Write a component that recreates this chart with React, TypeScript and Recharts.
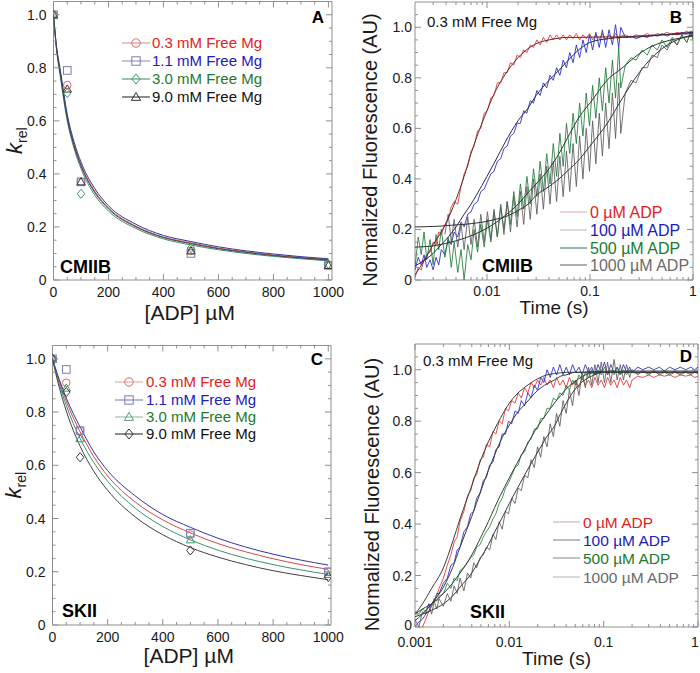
import React from 'react';
import { ComposedChart, Line, Scatter, XAxis, YAxis, ReferenceArea } from 'recharts';

const FONT = '"Liberation Sans", Arial, Helvetica, sans-serif';
const FRAME = '#8f8f8f';
const INK = '#1a1a1a';

// ---------- Panel A (CMIIB) ----------
const adpConc = [0, 50, 100, 500, 1000];
const cmiibMg03 = [1.0, 0.735, 0.37, 0.11, 0.055];
const cmiibMg11 = [1.0, 0.79, 0.37, 0.1, 0.055];
const cmiibMg30 = [1.0, 0.705, 0.325, 0.12, 0.06];
const cmiibMg90 = [1.0, 0.72, 0.37, 0.11, 0.055];

const fitAdp = [0, 10, 25, 50, 75, 100, 150, 200, 300, 400, 500, 600, 700, 800, 900, 1000];
const cmiibFit03 = [1, 0.885, 0.78, 0.615, 0.51, 0.435, 0.335, 0.272, 0.203, 0.162, 0.14, 0.12, 0.106, 0.094, 0.085, 0.077];
const cmiibFit11 = [1, 0.89, 0.79, 0.625, 0.52, 0.445, 0.345, 0.28, 0.21, 0.168, 0.145, 0.125, 0.11, 0.098, 0.088, 0.08];
const cmiibFit30 = [1, 0.878, 0.765, 0.6, 0.495, 0.42, 0.32, 0.26, 0.194, 0.155, 0.132, 0.114, 0.1, 0.089, 0.08, 0.072];
const cmiibFit90 = [1, 0.882, 0.775, 0.61, 0.505, 0.43, 0.33, 0.268, 0.2, 0.16, 0.137, 0.118, 0.104, 0.092, 0.083, 0.075];

// ---------- Panel C (SKII) ----------
const skiiMg03 = [1.0, 0.91, 0.73, 0.34, 0.2];
const skiiMg11 = [1.0, 0.96, 0.73, 0.345, 0.2];
const skiiMg30 = [1.0, 0.89, 0.7, 0.32, 0.19];
const skiiMg90 = [1.0, 0.875, 0.63, 0.28, 0.18];

const skiiFit03 = [1, 0.964, 0.914, 0.841, 0.779, 0.726, 0.632, 0.56, 0.462, 0.395, 0.346, 0.306, 0.275, 0.249, 0.227, 0.209];
const skiiFit11 = [1, 0.967, 0.921, 0.853, 0.795, 0.744, 0.65, 0.58, 0.485, 0.415, 0.367, 0.326, 0.293, 0.266, 0.244, 0.225];
const skiiFit30 = [1, 0.959, 0.904, 0.825, 0.758, 0.701, 0.61, 0.54, 0.439, 0.37, 0.32, 0.281, 0.251, 0.227, 0.207, 0.19];
const skiiFit90 = [1, 0.953, 0.891, 0.804, 0.732, 0.672, 0.577, 0.506, 0.406, 0.339, 0.291, 0.255, 0.227, 0.204, 0.186, 0.17];

// ---------- Panel B (CMIIB transients) ----------
const timeB = [0.002, 0.00215, 0.0023, 0.00245, 0.0026, 0.0028, 0.003, 0.0032, 0.0034, 0.0036,
  0.0039, 0.0042, 0.0045, 0.0048, 0.0052, 0.0056, 0.006, 0.0065, 0.007, 0.0075,
  0.0081, 0.0087, 0.0094, 0.0101, 0.0109, 0.0117, 0.0126, 0.0136, 0.0146, 0.0157,
  0.0169, 0.0182, 0.0196, 0.0211, 0.0227, 0.0244, 0.0263, 0.0283, 0.0305, 0.0328,
  0.0353, 0.038, 0.0409, 0.044, 0.0474, 0.051, 0.0549, 0.0591, 0.0636, 0.0685,
  0.0737, 0.0793, 0.0854, 0.0919, 0.0989, 0.106, 0.114, 0.123, 0.132, 0.142,
  0.153, 0.165, 0.177, 0.19, 0.199, 0.22, 0.25, 0.28, 0.32, 0.36,
  0.4, 0.45, 0.5, 0.56, 0.63, 0.7, 0.78, 0.87, 0.95, 1.0];
const cmiibAdp0 = [0.01, 0.05, 0.04, 0.08, 0.1, 0.11, 0.15, 0.14, 0.19, 0.18,
  0.22, 0.24, 0.29, 0.31, 0.3, 0.37, 0.42, 0.45, 0.51, 0.53,
  0.59, 0.6, 0.66, 0.67, 0.72, 0.73, 0.78, 0.78, 0.82, 0.82,
  0.86, 0.85, 0.89, 0.88, 0.91, 0.9, 0.93, 0.92, 0.95, 0.93,
  0.96, 0.94, 0.97, 0.95, 0.97, 0.95, 0.97, 0.95, 0.97, 0.955,
  0.975, 0.95, 0.97, 0.955, 0.975, 0.95, 0.97, 0.955, 0.975, 0.95,
  0.97, 0.955, 0.975, 0.955, 0.965, 0.97, 0.96, 0.97, 0.965, 0.975,
  0.965, 0.975, 0.97, 0.98, 0.97, 0.98, 0.975, 0.985, 0.975, 0.98];
const cmiibAdp100 = [0.04, 0.09, 0.06, 0.1, 0.05, 0.08, 0.04, 0.09, 0.06, 0.12,
  0.1, 0.16, 0.14, 0.19, 0.17, 0.23, 0.21, 0.26, 0.27, 0.3,
  0.31, 0.35, 0.36, 0.39, 0.42, 0.43, 0.47, 0.48, 0.52, 0.53,
  0.57, 0.58, 0.62, 0.62, 0.67, 0.66, 0.71, 0.7, 0.75, 0.73,
  0.78, 0.76, 0.81, 0.79, 0.84, 0.81, 0.87, 0.84, 0.9, 0.86,
  0.93, 0.88, 0.95, 0.9, 0.97, 0.91, 0.98, 0.92, 0.99, 0.92,
  0.99, 0.93, 1.01, 0.92, 1.0, 0.96, 0.965, 0.955, 0.965, 0.96,
  0.97, 0.965, 0.975, 0.965, 0.975, 0.97, 0.98, 0.975, 0.985, 0.98];
const cmiibAdp500 = [0.05, 0.17, 0.1, 0.19, 0.08, 0.16, 0.06, 0.18, 0.12, 0.2,
  0.09, 0.17, 0.05, 0.15, 0.03, 0.12, 0.0, 0.14, 0.08, 0.2,
  0.11, 0.22, 0.13, 0.24, 0.15, 0.27, 0.17, 0.29, 0.2, 0.31,
  0.22, 0.35, 0.25, 0.38, 0.28, 0.41, 0.3, 0.44, 0.33, 0.47,
  0.35, 0.5, 0.38, 0.54, 0.41, 0.58, 0.45, 0.62, 0.5, 0.66,
  0.54, 0.7, 0.57, 0.74, 0.61, 0.77, 0.64, 0.8, 0.67, 0.84,
  0.7, 0.87, 0.72, 0.92, 0.76, 0.85, 0.88, 0.87, 0.91, 0.89,
  0.93, 0.91, 0.95, 0.92, 0.96, 0.93, 0.97, 0.94, 0.98, 0.95];
const cmiibAdp1000 = [null, null, null, null, null, null, null, null, null, null,
  0.18, 0.26, 0.15, 0.24, 0.13, 0.22, 0.12, 0.25, 0.14, 0.24,
  0.13, 0.26, 0.15, 0.27, 0.16, 0.28, 0.17, 0.3, 0.18, 0.31,
  0.19, 0.33, 0.21, 0.35, 0.22, 0.37, 0.24, 0.4, 0.26, 0.42,
  0.28, 0.45, 0.3, 0.47, 0.31, 0.49, 0.33, 0.51, 0.35, 0.54,
  0.37, 0.57, 0.4, 0.6, 0.43, 0.63, 0.46, 0.66, 0.49, 0.7,
  0.52, 0.74, 0.56, 0.78, 0.58, 0.74, 0.79, 0.78, 0.84, 0.84,
  0.89, 0.88, 0.93, 0.91, 0.95, 0.93, 0.97, 0.94, 0.98, 0.96];

const fitTimeB = [0.002, 0.0025, 0.003, 0.0035, 0.004, 0.005, 0.006, 0.007, 0.008, 0.01, 0.012, 0.015, 0.02, 0.025,
  0.03, 0.04, 0.05, 0.06, 0.08, 0.1, 0.15, 0.2, 0.3, 0.4, 0.5, 0.7, 1];
const cmiibFitAdp0 = [0.02, 0.082, 0.14, 0.182, 0.225, 0.318, 0.41, 0.5, 0.568, 0.67, 0.745, 0.813, 0.88, 0.915,
  0.935, 0.95, 0.957, 0.96, 0.96, 0.961, 0.962, 0.962, 0.965, 0.968, 0.97, 0.972, 0.975];
const cmiibFitAdp100 = [0.055, 0.08, 0.105, 0.135, 0.16, 0.21, 0.26, 0.3, 0.34, 0.41, 0.47, 0.545, 0.63, 0.68,
  0.73, 0.79, 0.83, 0.865, 0.915, 0.94, 0.955, 0.96, 0.962, 0.966, 0.97, 0.975, 0.98];
const cmiibFitAdp500 = [0.13, 0.132, 0.135, 0.14, 0.145, 0.155, 0.165, 0.175, 0.185, 0.205, 0.225, 0.255, 0.3, 0.345,
  0.38, 0.44, 0.5, 0.56, 0.65, 0.7, 0.795, 0.835, 0.895, 0.925, 0.94, 0.955, 0.965];
const cmiibFitAdp1000 = [0.21, 0.211, 0.212, 0.213, 0.215, 0.218, 0.22, 0.223, 0.226, 0.232, 0.24, 0.25, 0.275, 0.3,
  0.335, 0.37, 0.4, 0.43, 0.48, 0.53, 0.625, 0.71, 0.82, 0.88, 0.915, 0.95, 0.97];

// ---------- Panel D (SKII transients) ----------
const timeD = [0.001, 0.0011, 0.0012, 0.0013, 0.0014, 0.0015, 0.0016, 0.0017, 0.0018, 0.002,
  0.0022, 0.0024, 0.0026, 0.0028, 0.003, 0.0033, 0.0036, 0.0039, 0.0042, 0.0045,
  0.0049, 0.0053, 0.0057, 0.0062, 0.0067, 0.0072, 0.0078, 0.0084, 0.0091, 0.0098,
  0.0106, 0.0115, 0.0124, 0.0134, 0.0145, 0.0157, 0.017, 0.0184, 0.0199, 0.0215,
  0.0232, 0.0251, 0.0271, 0.0293, 0.0317, 0.0343, 0.0371, 0.0401, 0.0433, 0.0468,
  0.0506, 0.0547, 0.0591, 0.0639, 0.0691, 0.0747, 0.0807, 0.0872, 0.0943, 0.102,
  0.11, 0.119, 0.129, 0.139, 0.15, 0.162, 0.175, 0.189, 0.2, 0.23,
  0.26, 0.3, 0.34, 0.39, 0.44, 0.5, 0.57, 0.65, 0.74, 0.84,
  0.92, 1.0];
const skiiAdp0 = [null, null, 0.0, 0.03, 0.06, 0.08, 0.11, 0.12, 0.15, 0.19,
  0.24, 0.28, 0.33, 0.35, 0.41, 0.45, 0.51, 0.53, 0.58, 0.59,
  0.65, 0.66, 0.71, 0.7, 0.76, 0.75, 0.8, 0.79, 0.85, 0.84,
  0.88, 0.87, 0.91, 0.89, 0.93, 0.91, 0.95, 0.93, 0.96, 0.94,
  0.97, 0.94, 0.96, 0.93, 0.97, 0.94, 0.96, 0.93, 0.97, 0.94,
  0.96, 0.93, 0.97, 0.94, 0.96, 0.93, 0.97, 0.94, 0.96, 0.93,
  0.97, 0.94, 0.96, 0.93, 0.97, 0.94, 0.96, 0.93, 0.96, 0.975,
  0.97, 0.98, 0.97, 0.98, 0.975, 0.98, 0.97, 0.98, 0.975, 0.98,
  0.97, 0.975];
const skiiAdp100 = [0.0, 0.02, 0.03, 0.05, 0.06, 0.09, 0.1, 0.13, 0.13, 0.17,
  0.19, 0.24, 0.25, 0.3, 0.31, 0.37, 0.39, 0.44, 0.45, 0.5,
  0.52, 0.57, 0.58, 0.63, 0.64, 0.69, 0.7, 0.75, 0.75, 0.8,
  0.79, 0.84, 0.83, 0.88, 0.86, 0.91, 0.89, 0.94, 0.92, 0.97,
  0.95, 1.0, 0.97, 1.01, 0.98, 1.02, 0.98, 1.01, 0.98, 1.02,
  0.99, 1.01, 0.98, 1.02, 0.99, 1.01, 0.98, 1.02, 0.99, 1.03,
  0.98, 1.02, 0.99, 1.01, 0.98, 1.02, 0.99, 1.01, 0.99, 1.01,
  1.0, 1.01, 1.0, 1.01, 0.995, 1.01, 1.0, 1.01, 1.0, 1.01,
  1.0, 1.01];
const skiiAdp500 = [0.06, 0.05, 0.07, 0.06, 0.09, 0.08, 0.11, 0.1, 0.12, 0.13,
  0.17, 0.15, 0.19, 0.18, 0.22, 0.23, 0.25, 0.27, 0.28, 0.31,
  0.32, 0.35, 0.37, 0.39, 0.42, 0.44, 0.48, 0.5, 0.54, 0.56,
  0.59, 0.62, 0.63, 0.67, 0.68, 0.72, 0.73, 0.77, 0.77, 0.81,
  0.81, 0.85, 0.85, 0.89, 0.88, 0.91, 0.9, 0.94, 0.92, 0.96,
  0.94, 0.98, 0.96, 0.99, 0.97, 1.0, 0.98, 1.0, 0.98, 1.01,
  0.98, 1.0, 0.98, 1.01, 0.98, 1.0, 0.98, 1.0, 0.99, 0.985,
  0.995, 0.985, 0.995, 0.985, 0.995, 0.985, 0.995, 0.985, 0.995, 0.985,
  0.995, 0.99];
const skiiAdp1000 = [0.03, 0.0, 0.06, 0.05, 0.09, 0.05, 0.1, 0.07, 0.11, 0.08,
  0.13, 0.1, 0.16, 0.13, 0.19, 0.14, 0.21, 0.19, 0.25, 0.23,
  0.27, 0.28, 0.31, 0.3, 0.36, 0.34, 0.41, 0.38, 0.45, 0.44,
  0.5, 0.48, 0.54, 0.53, 0.59, 0.58, 0.65, 0.62, 0.7, 0.66,
  0.74, 0.7, 0.79, 0.74, 0.83, 0.78, 0.88, 0.83, 0.92, 0.86,
  0.96, 0.9, 0.99, 0.93, 1.01, 0.94, 1.02, 0.95, 1.03, 0.95,
  1.03, 0.95, 1.04, 0.96, 1.02, 0.96, 1.02, 0.97, 1.0, 0.98,
  0.995, 0.98, 0.995, 0.98, 0.99, 0.98, 0.99, 0.98, 0.99, 0.98,
  0.99, 0.985];

const fitTimeD = [0.001, 0.0012, 0.0015, 0.002, 0.0025, 0.003, 0.004, 0.005, 0.006, 0.007, 0.008, 0.01, 0.012, 0.015,
  0.02, 0.025, 0.03, 0.035, 0.04, 0.05, 0.06, 0.07, 0.08, 0.1, 0.2, 0.5, 1];
const skiiFitAdp0 = [0.05, 0.09, 0.15, 0.23, 0.33, 0.42, 0.55, 0.65, 0.72, 0.77, 0.81, 0.87, 0.905, 0.935,
  0.965, 0.98, 0.985, 0.988, 0.99, 0.99, 0.99, 0.99, 0.99, 0.99, 0.99, 0.99, 0.99];
const skiiFitAdp100 = [0.025, 0.05, 0.09, 0.155, 0.23, 0.31, 0.43, 0.53, 0.61, 0.67, 0.72, 0.785, 0.83, 0.87,
  0.92, 0.945, 0.96, 0.975, 0.98, 0.99, 0.99, 0.992, 0.993, 0.994, 0.995, 0.995, 0.995];
const skiiFitAdp500 = [0.05, 0.07, 0.09, 0.13, 0.17, 0.21, 0.28, 0.35, 0.41, 0.465, 0.51, 0.58, 0.635, 0.7,
  0.78, 0.83, 0.87, 0.9, 0.925, 0.955, 0.975, 0.985, 0.988, 0.99, 0.99, 0.99, 0.99];
const skiiFitAdp1000 = [0.04, 0.05, 0.065, 0.09, 0.12, 0.155, 0.21, 0.27, 0.32, 0.37, 0.41, 0.48, 0.535, 0.6,
  0.68, 0.74, 0.78, 0.83, 0.87, 0.925, 0.955, 0.97, 0.98, 0.99, 0.99, 0.99, 0.99];

// ---------- Ticks ----------
const adpTicks = [0, 50, 100, 150, 200, 250, 300, 350, 400, 450, 500, 550, 600, 650, 700, 750, 800, 850, 900, 950, 1000];
const adpMajor = [0, 200, 400, 600, 800, 1000];
const krelTicks = [0, 0.05, 0.1, 0.15, 0.2, 0.25, 0.3, 0.35, 0.4, 0.45, 0.5, 0.55, 0.6, 0.65, 0.7, 0.75, 0.8, 0.85, 0.9, 0.95, 1.0];
const fluorTicks = [0, 0.05, 0.1, 0.15, 0.2, 0.25, 0.3, 0.35, 0.4, 0.45, 0.5, 0.55, 0.6, 0.65, 0.7, 0.75, 0.8, 0.85, 0.9, 0.95, 1.0, 1.05];
const yMajor = [0, 0.2, 0.4, 0.6, 0.8, 1.0];
const timeTicksB = [0.003, 0.004, 0.005, 0.006, 0.007, 0.008, 0.009, 0.01, 0.02, 0.03, 0.04, 0.05, 0.06, 0.07, 0.08, 0.09, 0.1, 0.2, 0.3, 0.4, 0.5, 0.6, 0.7, 0.8, 0.9, 1];
const timeTicksD = [0.001, 0.002, 0.003, 0.004, 0.005, 0.006, 0.007, 0.008, 0.009, 0.01, 0.02, 0.03, 0.04, 0.05, 0.06, 0.07, 0.08, 0.09, 0.1, 0.2, 0.3, 0.4, 0.5, 0.6, 0.7, 0.8, 0.9, 1];
const timeMajor = [0.001, 0.01, 0.1, 1];

const mgLabels = ['0.3 mM Free Mg', '1.1 mM Free Mg', '3.0 mM Free Mg', '9.0 mM Free Mg'];
const adpLabels = ['0 µM ADP', '100 µM ADP', '500 µM ADP', '1000 µM ADP'];

type XY = { x: number; y: number };
function pairs(xs: number[], ys: (number | null)[]): XY[] {
  const out: XY[] = [];
  xs.forEach((x, i) => {
    const y = ys[i];
    if (y !== null && y !== undefined) out.push({ x, y });
  });
  return out;
}

const fmtPlain = (v: number) => String(v);
const fmtK = (v: number) => (v === 0 ? '0' : v.toFixed(1));

function bottomTicks(major: number[], top: number, fmt: (v: number) => string, dy: number, maxX: number) {
  return (props: any) => {
    const { x, y, payload } = props;
    const v = payload.value as number;
    const isMajor = major.indexOf(v) >= 0;
    const len = isMajor ? 6 : 3;
    return (
      <g>
        <line x1={x} y1={y} x2={x} y2={y - len} stroke={FRAME} strokeWidth={1} />
        <line x1={x} y1={top} x2={x} y2={top + len} stroke={FRAME} strokeWidth={1} />
        {isMajor ? (
          <text x={Math.min(x, maxX)} y={y + dy} textAnchor="middle" fontSize={14} fontFamily={FONT} fill={INK}>{fmt(v)}</text>
        ) : null}
      </g>
    );
  };
}

function leftTicks(major: number[], right: number, fmt: (v: number) => string, gap: number, zeroLift: number) {
  return (props: any) => {
    const { x, y, payload } = props;
    const v = payload.value as number;
    const isMajor = major.indexOf(v) >= 0;
    const len = isMajor ? 6 : 3;
    return (
      <g>
        <line x1={x} y1={y} x2={x + len} y2={y} stroke={FRAME} strokeWidth={1} />
        <line x1={right} y1={y} x2={right - len} y2={y} stroke={FRAME} strokeWidth={1} />
        {isMajor ? (
          <text x={x - gap} y={y + 5 - (v === 0 ? zeroLift : 0)} textAnchor="end" fontSize={14} fontFamily={FONT} fill={INK}>{fmt(v)}</text>
        ) : null}
      </g>
    );
  };
}

function xTitle(text: string, dy: number, size: number, dx: number) {
  return (props: any) => {
    const vb = props.viewBox || {};
    return (
      <text x={vb.x + vb.width / 2 + dx} y={vb.y + dy} textAnchor="middle" fontSize={size} fontFamily={FONT} fill={INK}>
        {text}
      </text>
    );
  };
}

function krelTitle(dx: number) {
  return (props: any) => {
    const vb = props.viewBox || {};
    const x = vb.x + vb.width - dx;
    const y = vb.y + vb.height / 2;
    return (
      <text transform={`rotate(-90 ${x} ${y})`} x={x} y={y} textAnchor="middle" fontFamily={FONT} fill={INK}>
        <tspan fontStyle="italic" fontSize={22}>k</tspan>
        <tspan fontSize={14} dy={5}>rel</tspan>
      </text>
    );
  };
}

function fluorTitle(dx: number, dy: number) {
  return (props: any) => {
    const vb = props.viewBox || {};
    const x = vb.x + vb.width - dx;
    const y = vb.y + vb.height / 2 + dy;
    return (
      <text transform={`rotate(-90 ${x} ${y})`} x={x} y={y} textAnchor="middle" fontSize={20} fontFamily={FONT} fill={INK}>
        Normalized Fluorescence (AU)
      </text>
    );
  };
}

type MarkerKind = 'circle' | 'square' | 'diamond' | 'triangle';
function drawMarker(kind: MarkerKind, cx: number, cy: number, color: string, s: number) {
  if (kind === 'circle') return <circle cx={cx} cy={cy} r={s} fill="none" stroke={color} strokeWidth={1} />;
  if (kind === 'square') return <rect x={cx - s} y={cy - s} width={2 * s} height={2 * s} fill="none" stroke={color} strokeWidth={1} />;
  if (kind === 'diamond')
    return <polygon points={`${cx},${cy - s * 1.2} ${cx + s},${cy} ${cx},${cy + s * 1.2} ${cx - s},${cy}`} fill="none" stroke={color} strokeWidth={1} />;
  return <polygon points={`${cx},${cy - s * 1.1} ${cx + s * 1.1},${cy + s * 0.8} ${cx - s * 1.1},${cy + s * 0.8}`} fill="none" stroke={color} strokeWidth={1} />;
}
const markerShape = (kind: MarkerKind, color: string) => (p: any) => drawMarker(kind, p.cx, p.cy, color, 3.8);

// colours
const RED_T = '#e02222';
const BLUE_T = '#2020b8';
const GREEN_T = '#1b7a2c';
const GREY_T = '#6a6a6a';

type SeriesDef = { ys: number[]; fit: number[]; kind: MarkerKind; mark: string; line: string };
type Margin = { top: number; right: number; bottom: number; left: number };

function KrelPanel(props: { height: number; margin: Margin; series: SeriesDef[]; xMax: number; titleDy: number }) {
  const { height, margin, series, xMax, titleDy } = props;
  const W = 350;
  const top = margin.top;
  const right = W - margin.right;
  // axes take 1px each so that Recharts draws them; margins are reduced accordingly
  const m = { top: margin.top, right: margin.right, bottom: margin.bottom - 1, left: margin.left - 1 };
  return (
    <ComposedChart width={W} height={height} margin={m}>
      <XAxis dataKey="x" type="number" domain={[0, xMax]} ticks={adpTicks} interval={0} allowDataOverflow
        height={1} tickLine={false} axisLine={false} tickSize={0} tickMargin={0}
        tick={bottomTicks(adpMajor, top, fmtPlain, 17, W - 16)} label={xTitle('[ADP] µM', titleDy, 21, -3)} />
      <YAxis type="number" domain={[0, 1.05]} ticks={krelTicks} interval={0} allowDataOverflow
        width={1} tickLine={false} axisLine={false} tickSize={0} tickMargin={0}
        tick={leftTicks(yMajor, right, fmtK, 7, 0)} label={krelTitle(32)} />
      <ReferenceArea x1={0} x2={xMax} y1={0} y2={1.05} fill="none" fillOpacity={0} stroke={FRAME} strokeWidth={1} ifOverflow="visible" />
      {series.map((s, i) => (
        <Line key={'f' + i} data={pairs(fitAdp, s.fit)} dataKey="y" type="monotone" stroke={s.line} strokeWidth={1}
          dot={false} isAnimationActive={false} />
      ))}
      {series.map((s, i) => (
        <Scatter key={'s' + i} data={pairs(adpConc, s.ys)} dataKey="y" shape={markerShape(s.kind, s.mark)} isAnimationActive={false} />
      ))}
    </ComposedChart>
  );
}

type TraceDef = { t: number[]; ys: (number | null)[]; color: string };
type FitDef = { t: number[]; ys: number[]; color: string };

function TracePanel(props: {
  height: number; margin: Margin; domain: [number, number]; ticks: number[];
  traces: TraceDef[]; fits: FitDef[]; titleDy: number; yTitleDx: number; labelDy: number; zeroLift: number;
}) {
  const { height, margin, domain, ticks, traces, fits, titleDy, yTitleDx, labelDy, zeroLift } = props;
  const W = 350;
  const top = margin.top;
  const right = W - margin.right;
  const m = { top: margin.top, right: margin.right, bottom: margin.bottom - 1, left: margin.left - 1 };
  return (
    <ComposedChart width={W} height={height} margin={m}>
      <XAxis dataKey="x" type="number" scale="log" domain={domain} ticks={ticks} interval={0} allowDataOverflow
        height={1} tickLine={false} axisLine={false} tickSize={0} tickMargin={0}
        tick={bottomTicks(timeMajor, top, fmtPlain, labelDy, W - 5)} label={xTitle('Time (s)', titleDy, 19, 0)} />
      <YAxis type="number" domain={[0, 1.1]} ticks={fluorTicks} interval={0} allowDataOverflow
        width={1} tickLine={false} axisLine={false} tickSize={0} tickMargin={0}
        tick={leftTicks(yMajor, right, fmtK, 3, zeroLift)} label={fluorTitle(yTitleDx, 9)} />
      <ReferenceArea x1={domain[0]} x2={domain[1]} y1={0} y2={1.1} fill="none" fillOpacity={0} stroke={FRAME} strokeWidth={1} ifOverflow="visible" />
      {traces.map((s, i) => (
        <Line key={'t' + i} data={pairs(s.t, s.ys)} dataKey="y" type="linear" stroke={s.color} strokeWidth={1}
          strokeOpacity={0.85} dot={false} isAnimationActive={false} />
      ))}
      {fits.map((s, i) => (
        <Line key={'f' + i} data={pairs(s.t, s.ys)} dataKey="y" type="monotone" stroke={s.color} strokeWidth={1}
          dot={false} isAnimationActive={false} />
      ))}
    </ComposedChart>
  );
}

type LegRow = { text: string; tc: string; lc: string; kind?: MarkerKind; mc?: string };

function LegendBlock(props: { x0: number; x1: number; tx: number; ys: number[]; rows: LegRow[]; size: number }) {
  const { x0, x1, tx, ys, rows, size } = props;
  return (
    <g>
      {rows.map((r, i) => (
        <g key={i}>
          <line x1={x0} y1={ys[i]} x2={x1} y2={ys[i]} stroke={r.lc} strokeWidth={1.2} />
          {r.kind ? drawMarker(r.kind, (x0 + x1) / 2, ys[i], r.mc || r.lc, 4.2) : null}
          <text x={tx} y={ys[i] + size * 0.36} fontSize={size} fontFamily={FONT} fill={r.tc}>{r.text}</text>
        </g>
      ))}
    </g>
  );
}

export default function App() {
  const seriesA: SeriesDef[] = [
    { ys: cmiibMg03, fit: cmiibFit03, kind: 'circle', mark: '#d86868', line: '#d04848' },
    { ys: cmiibMg11, fit: cmiibFit11, kind: 'square', mark: '#7a7abc', line: '#3434a4' },
    { ys: cmiibMg30, fit: cmiibFit30, kind: 'diamond', mark: '#3c9a6c', line: '#3a9070' },
    { ys: cmiibMg90, fit: cmiibFit90, kind: 'triangle', mark: '#3a3a3a', line: '#404040' },
  ];
  const seriesC: SeriesDef[] = [
    { ys: skiiMg03, fit: skiiFit03, kind: 'circle', mark: '#d86868', line: '#d04848' },
    { ys: skiiMg11, fit: skiiFit11, kind: 'square', mark: '#7a7abc', line: '#3434a4' },
    { ys: skiiMg30, fit: skiiFit30, kind: 'triangle', mark: '#3c9a6c', line: '#3a9070' },
    { ys: skiiMg90, fit: skiiFit90, kind: 'diamond', mark: '#3a3a3a', line: '#404040' },
  ];
  const tracesB: TraceDef[] = [
    { t: timeB, ys: cmiibAdp0, color: '#e23030' },
    { t: timeB, ys: cmiibAdp100, color: '#2424c8' },
    { t: timeB, ys: cmiibAdp500, color: '#1e7a36' },
    { t: timeB, ys: cmiibAdp1000, color: '#5a5a5a' },
  ];
  const fitsB: FitDef[] = [
    { t: fitTimeB, ys: cmiibFitAdp0, color: '#6a2a2a' },
    { t: fitTimeB, ys: cmiibFitAdp100, color: '#2a2a4a' },
    { t: fitTimeB, ys: cmiibFitAdp500, color: '#2a3a2e' },
    { t: fitTimeB, ys: cmiibFitAdp1000, color: '#333333' },
  ];
  const tracesD: TraceDef[] = [
    { t: timeD, ys: skiiAdp0, color: '#e23030' },
    { t: timeD, ys: skiiAdp100, color: '#2424c8' },
    { t: timeD, ys: skiiAdp500, color: '#1e8a36' },
    { t: timeD, ys: skiiAdp1000, color: '#5a5a5a' },
  ];
  const fitsD: FitDef[] = [
    { t: fitTimeD, ys: skiiFitAdp0, color: '#3a3a3a' },
    { t: fitTimeD, ys: skiiFitAdp100, color: '#3a3a3a' },
    { t: fitTimeD, ys: skiiFitAdp500, color: '#3a3a3a' },
    { t: fitTimeD, ys: skiiFitAdp1000, color: '#3a3a3a' },
  ];

  const legA: LegRow[] = [
    { text: mgLabels[0], tc: RED_T, lc: '#e29a9a', kind: 'circle', mc: '#d86868' },
    { text: mgLabels[1], tc: BLUE_T, lc: '#9a9ac6', kind: 'square', mc: '#7a7abc' },
    { text: mgLabels[2], tc: GREEN_T, lc: '#5a9a7a', kind: 'diamond', mc: '#3c9a6c' },
    { text: mgLabels[3], tc: '#111', lc: '#444', kind: 'triangle', mc: '#333' },
  ];
  const legC: LegRow[] = [
    { text: mgLabels[0], tc: RED_T, lc: '#e8b0b0', kind: 'circle', mc: '#d86868' },
    { text: mgLabels[1], tc: BLUE_T, lc: '#8a8ac0', kind: 'square', mc: '#7a7abc' },
    { text: mgLabels[2], tc: GREEN_T, lc: '#9ac0aa', kind: 'triangle', mc: '#5a9a7a' },
    { text: mgLabels[3], tc: '#111', lc: '#444', kind: 'diamond', mc: '#333' },
  ];
  const legB: LegRow[] = [
    { text: adpLabels[0], tc: RED_T, lc: '#e8b4b4' },
    { text: adpLabels[1], tc: BLUE_T, lc: '#c4c4cc' },
    { text: adpLabels[2], tc: GREEN_T, lc: '#4a8a7e' },
    { text: adpLabels[3], tc: GREY_T, lc: '#7a7a7a' },
  ];
  const legD: LegRow[] = [
    { text: adpLabels[0], tc: RED_T, lc: '#cdb8b8' },
    { text: adpLabels[1], tc: BLUE_T, lc: '#909090' },
    { text: adpLabels[2], tc: GREEN_T, lc: '#9a9a9a' },
    { text: adpLabels[3], tc: GREY_T, lc: '#c0c0c0' },
  ];

  return (
    <div style={{ position: 'absolute', left: 0, top: 0, width: 700, height: 673, background: '#ffffff', overflow: 'hidden' }}>
      <div style={{ position: 'absolute', left: 0, top: 0 }}>
        <KrelPanel height={335} margin={{ top: 1.5, right: 18, bottom: 55, left: 53.5 }} series={seriesA} xMax={1013} titleDy={40} />
      </div>
      <div style={{ position: 'absolute', left: 350, top: 0 }}>
        <TracePanel height={335} margin={{ top: 2, right: 7, bottom: 55, left: 65 }} domain={[0.002, 1]} ticks={timeTicksB}
          traces={tracesB} fits={fitsB} titleDy={34} yTitleDx={38} labelDy={16} zeroLift={0} />
      </div>
      <div style={{ position: 'absolute', left: 0, top: 335 }}>
        <KrelPanel height={338} margin={{ top: 10.5, right: 19, bottom: 48, left: 52.5 }} series={seriesC} xMax={1010} titleDy={38} />
      </div>
      <div style={{ position: 'absolute', left: 350, top: 335 }}>
        <TracePanel height={338} margin={{ top: 9, right: 2, bottom: 46, left: 65 }} domain={[0.001, 1]} ticks={timeTicksD}
          traces={tracesD} fits={fitsD} titleDy={38} yTitleDx={36} labelDy={20} zeroLift={2} />
      </div>
      <svg width={700} height={673} style={{ position: 'absolute', left: 0, top: 0, pointerEvents: 'none' }}>
        <LegendBlock x0={122} x1={150} tx={152} ys={[43, 61, 79, 97]} rows={legA} size={15} />
        <LegendBlock x0={115} x1={143} tx={146} ys={[382, 400, 417, 434]} rows={legC} size={15} />
        <LegendBlock x0={560} x1={587} tx={590} ys={[212, 230, 248, 265]} rows={legB} size={16} />
        <LegendBlock x0={553} x1={580} tx={583} ys={[522, 540, 558, 577]} rows={legD} size={15.5} />
        <text x={318} y={23} textAnchor="middle" fontSize={17} fontWeight="bold" fontFamily={FONT} fill="#000">A</text>
        <text x={676} y={23} textAnchor="middle" fontSize={17} fontWeight="bold" fontFamily={FONT} fill="#000">B</text>
        <text x={317} y={365} textAnchor="middle" fontSize={17} fontWeight="bold" fontFamily={FONT} fill="#000">C</text>
        <text x={686} y={362} textAnchor="middle" fontSize={17} fontWeight="bold" fontFamily={FONT} fill="#000">D</text>
        <text x={60} y={273} fontSize={18} fontWeight="bold" fontFamily={FONT} fill="#000">CMIIB</text>
        <text x={482} y={272} fontSize={18} fontWeight="bold" fontFamily={FONT} fill="#000">CMIIB</text>
        <text x={62} y={617} fontSize={18} fontWeight="bold" fontFamily={FONT} fill="#000">SKII</text>
        <text x={470} y={618} fontSize={18} fontWeight="bold" fontFamily={FONT} fill="#000">SKII</text>
        <text x={427} y={27} fontSize={15} fontFamily={FONT} fill="#111">0.3 mM Free Mg</text>
        <text x={423} y={366} fontSize={15} fontFamily={FONT} fill="#111">0.3 mM Free Mg</text>
      </svg>
    </div>
  );
}
